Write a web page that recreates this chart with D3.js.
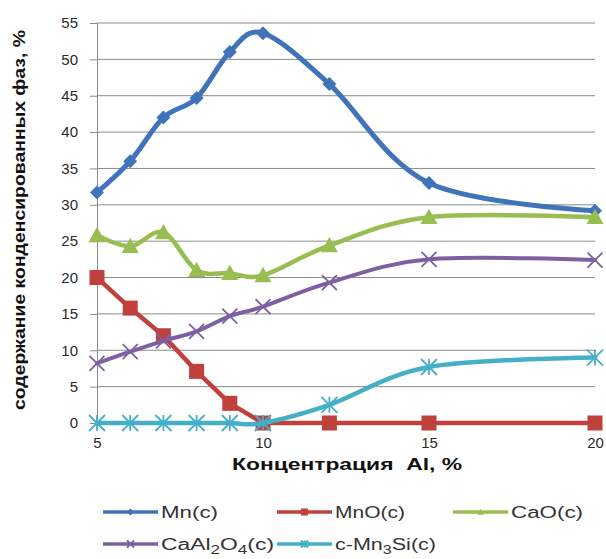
<!DOCTYPE html>
<html>
<head>
<meta charset="utf-8">
<script src="https://cdn.jsdelivr.net/npm/d3@7/dist/d3.min.js"></script>
<style>
  html, body { margin: 0; padding: 0; background: #fff; }
  svg { display: block; font-family: "Liberation Sans", Arial, sans-serif; }
</style>
</head>
<body>
<svg id="chart" width="606" height="559"></svg>
<script>
// Aluminium concentration, %
const alConc = [5, 6, 7, 8, 9, 10, 12, 15, 20];

// Content of condensed phases, %
const mnValues      = [31.7, 36.0, 42.0, 44.7, 51.0, 53.6, 46.6, 33.0, 29.2];
const mnoValues     = [20.0, 15.8, 12.0, 7.1, 2.7, 0, 0, 0, 0];
const caoValues     = [25.8, 24.3, 26.2, 21.0, 20.6, 20.3, 24.4, 28.3, 28.3];
const caal2o4Values = [8.2, 9.8, 11.3, 12.6, 14.7, 16.0, 19.3, 22.5, 22.4];
const mn3siValues   = [0, 0, 0, 0, 0, 0, 2.5, 7.7, 9.0];

const xTicks = [5, 10, 15, 20];
const yTicks = [0, 5, 10, 15, 20, 25, 30, 35, 40, 45, 50, 55];

const seriesNames = ["Mn(c)", "MnO(c)", "CaO(c)", "CaAl2O4(c)", "c-Mn3Si(c)"];

const series = [
  { name: seriesNames[0], values: mnValues,      color: "#3F73BA", marker: "diamond",  width: 5,   smooth: true },
  { name: seriesNames[1], values: mnoValues,     color: "#C0403B", marker: "square",   width: 4.5, smooth: false },
  { name: seriesNames[2], values: caoValues,     color: "#98BE52", marker: "triangle", width: 4.5, smooth: true },
  { name: seriesNames[3], values: caal2o4Values, color: "#7D60A0", marker: "cross",    width: 4,   smooth: true },
  { name: seriesNames[4], values: mn3siValues,   color: "#45AFC8", marker: "star",     width: 4.5, smooth: true }
];

const svg = d3.select("#chart");

const x = d3.scaleLinear().domain([5, 20]).range([97, 595]);
const y = d3.scaleLinear().domain([0, 55]).range([423, 23]);

// horizontal gridlines
svg.append("g")
  .selectAll("line")
  .data(yTicks.filter(t => t > 0))
  .join("line")
  .attr("x1", x(5)).attr("x2", x(20))
  .attr("y1", d => y(d)).attr("y2", d => y(d))
  .attr("stroke", "#8a8a8a").attr("stroke-width", 1);

// y axis
const yAxis = svg.append("g")
  .attr("transform", `translate(${x(5)},0)`)
  .call(d3.axisLeft(y).tickValues(yTicks).tickSize(7).tickPadding(12));
yAxis.select(".domain").attr("stroke", "#8a8a8a");
yAxis.selectAll(".tick line").attr("stroke", "#8a8a8a");
yAxis.selectAll(".tick text")
  .attr("font-family", "Liberation Sans, Arial, sans-serif")
  .attr("font-size", 15).attr("fill", "#2a2a2a");

// x axis
const xAxis = svg.append("g")
  .attr("transform", `translate(0,${y(0)})`)
  .call(d3.axisBottom(x).tickValues(xTicks).tickSize(5).tickPadding(9));
xAxis.select(".domain").attr("stroke", "#8a8a8a");
xAxis.selectAll(".tick line").attr("stroke", "#8a8a8a");
xAxis.selectAll(".tick text")
  .attr("font-family", "Liberation Sans, Arial, sans-serif")
  .attr("font-size", 15).attr("fill", "#2a2a2a");

// axis titles
svg.append("text")
  .attr("x", 347).attr("y", 470)
  .attr("text-anchor", "middle")
  .attr("font-size", 17).attr("font-weight", "bold").attr("fill", "#111")
  .attr("textLength", 230).attr("lengthAdjust", "spacingAndGlyphs")
  .style("white-space", "pre")
  .text("Концентрация  Al, %");

svg.append("text")
  .attr("transform", "translate(25,220) rotate(-90)")
  .attr("text-anchor", "middle")
  .attr("font-size", 17).attr("font-weight", "bold").attr("fill", "#111")
  .attr("textLength", 380).attr("lengthAdjust", "spacingAndGlyphs")
  .text("содержание конденсированных фаз, %");

// marker drawing
function drawMarker(g, type, color, s) {
  const h = s / 2;
  if (type === "diamond") {
    g.append("path").attr("d", `M0,${-h}L${h},0L0,${h}L${-h},0Z`).attr("fill", color);
  } else if (type === "square") {
    g.append("rect").attr("x", -h).attr("y", -h).attr("width", s).attr("height", s).attr("fill", color);
  } else if (type === "triangle") {
    g.append("path").attr("d", `M0,${-h}L${h},${h * 0.8}L${-h},${h * 0.8}Z`).attr("fill", color);
  } else if (type === "cross") {
    g.append("path").attr("d", `M${-h},${-h}L${h},${h}M${-h},${h}L${h},${-h}`)
      .attr("stroke", color).attr("stroke-width", 1.8).attr("fill", "none");
  } else if (type === "star") {
    g.append("path").attr("d", `M${-h},${-h}L${h},${h}M${-h},${h}L${h},${-h}M0,${-h}L0,${h}`)
      .attr("stroke", color).attr("stroke-width", 1.8).attr("fill", "none");
  }
}

const markerSize = { diamond: 14, square: 15, triangle: 17, cross: 15, star: 16 };

// series lines and markers
series.forEach(s => {
  const pts = alConc.map((c, i) => [c, s.values[i]]);
  const line = d3.line()
    .x(d => x(d[0])).y(d => y(d[1]))
    .curve(s.smooth ? d3.curveCardinal.tension(0) : d3.curveLinear);
  svg.append("path")
    .datum(pts)
    .attr("d", line)
    .attr("fill", "none")
    .attr("stroke", s.color)
    .attr("stroke-width", s.width)
    .attr("stroke-linejoin", "round")
    .attr("stroke-linecap", "round");
  pts.forEach(p => {
    const g = svg.append("g").attr("transform", `translate(${x(p[0])},${y(p[1])})`);
    drawMarker(g, s.marker, s.color, markerSize[s.marker]);
  });
});

// legend
const legendItems = [
  { s: series[0], x: 103, y: 512, label: [["Mn(c)", false]], w: 57 },
  { s: series[1], x: 277, y: 512, label: [["MnO(c)", false]], w: 70 },
  { s: series[2], x: 453, y: 512, label: [["CaO(c)", false]], w: 72 },
  { s: series[3], x: 103, y: 544, label: [["CaAl", false], ["2", true], ["O", false], ["4", true], ["(c)", false]], w: 113 },
  { s: series[4], x: 277, y: 544, label: [["c-Mn", false], ["3", true], ["Si(c)", false]], w: 101 }
];

legendItems.forEach(item => {
  const g = svg.append("g").attr("transform", `translate(${item.x},${item.y})`);
  g.append("line").attr("x1", 0).attr("x2", 55).attr("y1", 0).attr("y2", 0)
    .attr("stroke", item.s.color).attr("stroke-width", 3.5);
  const mg = g.append("g").attr("transform", "translate(27.5,0)");
  drawMarker(mg, item.s.marker, item.s.color, 7);
  const t = g.append("text").attr("x", 58).attr("y", 6)
    .attr("font-size", 16).attr("fill", "#333")
    .attr("textLength", item.w).attr("lengthAdjust", "spacingAndGlyphs");
  item.label.forEach(([txt, sub], i) => {
    const ts = t.append("tspan").text(txt);
    if (sub) ts.attr("font-size", 12).attr("dy", 4);
    else if (i > 0) ts.attr("dy", -4);
  });
});
</script>
</body>
</html>
